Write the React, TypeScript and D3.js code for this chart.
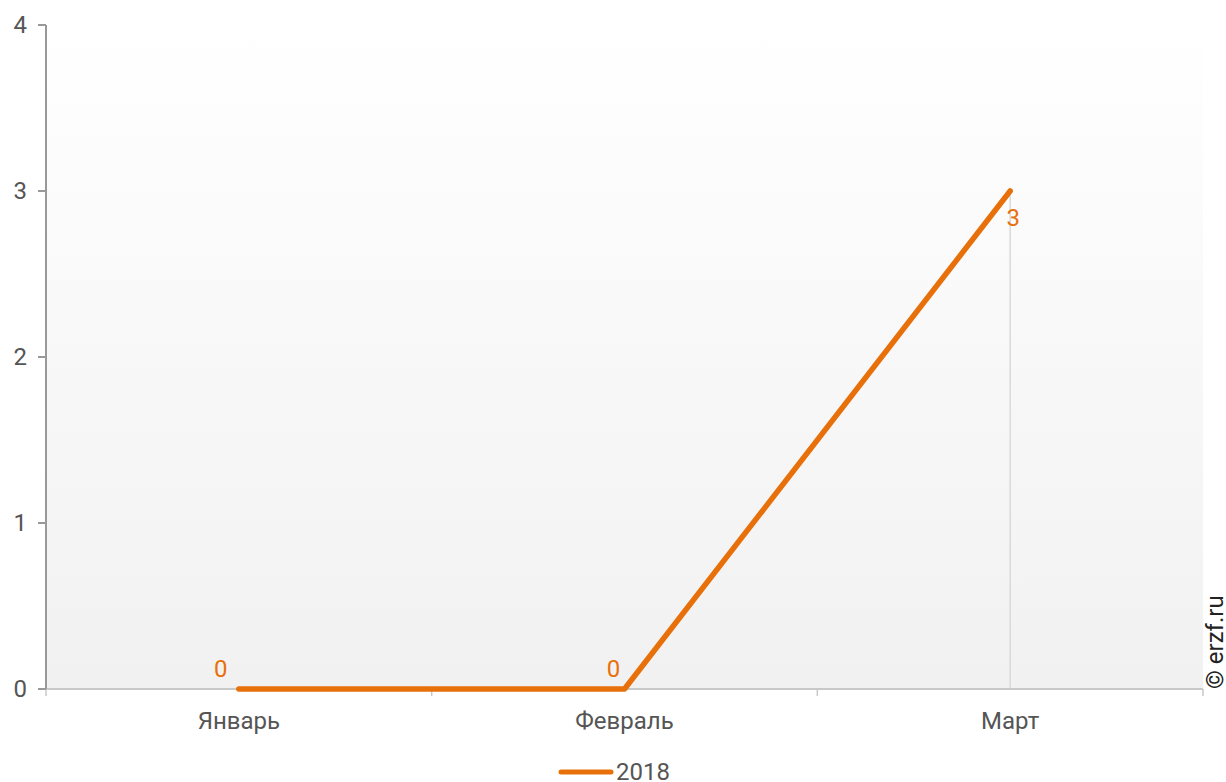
import React from "react";
import * as d3 from "d3";

const categories = ["Январь", "Февраль", "Март"];
const values2018 = [0, 0, 3];
const yTicks = [0, 1, 2, 3, 4];
const seriesName = "2018";

const W = 1226;
const H = 782;
const M = { left: 46, right: 23, top: 25, bottom: 93 };
const ORANGE = "#e8700a";
const FONT = "Roboto, 'Noto Sans', sans-serif";
const FS = 24;
const labelDx = [-18, -11, 3];
const labelDy = [-12, -12, 35];

export default function App() {
  const x = d3
    .scaleBand<string>()
    .domain(categories)
    .range([M.left, W - M.right])
    .padding(0);
  const y = d3.scaleLinear().domain([0, 4]).range([H - M.bottom, M.top]);
  const cx = (c: string) => (x(c) ?? 0) + x.bandwidth() / 2;
  const line = d3
    .line<number>()
    .x((_, i) => cx(categories[i]))
    .y((d) => y(d));
  const bounds = [...categories.map((c) => x(c) ?? 0), W - M.right];
  const lastIdx = values2018.length - 1;

  return (
    <svg
      width={W}
      height={H}
      style={{ position: "absolute", left: 0, top: 0, fontFamily: FONT }}
    >
      <defs>
        <linearGradient id="bg" x1="0" y1="0" x2="0" y2="1">
          <stop offset="0" stopColor="#ffffff" />
          <stop offset="1" stopColor="#f1f1f1" />
        </linearGradient>
      </defs>
      <rect x={0} y={0} width={W} height={H} fill="#fff" />
      <rect
        x={M.left}
        y={M.top}
        width={W - M.left - M.right}
        height={H - M.top - M.bottom}
        fill="url(#bg)"
      />
      {/* drop line at last point */}
      <line
        x1={cx(categories[lastIdx])}
        x2={cx(categories[lastIdx])}
        y1={y(values2018[lastIdx])}
        y2={y(0)}
        stroke="#d9d9d9"
        strokeWidth={1.5}
      />
      {/* x axis */}
      <line x1={M.left} x2={W - M.right} y1={y(0)} y2={y(0)} stroke="#c8c8c8" strokeWidth={2} />
      {bounds.map((b, i) => (
        <line key={i} x1={b} x2={b} y1={y(0)} y2={y(0) + 7} stroke="#c8c8c8" strokeWidth={1.5} />
      ))}
      {categories.map((c) => (
        <text
          key={c}
          x={cx(c)}
          y={y(0) + 40}
          textAnchor="middle"
          fontSize={FS}
          fill="#555"
        >
          {c}
        </text>
      ))}
      {/* y axis */}
      <line x1={M.left} x2={M.left} y1={M.top} y2={y(0)} stroke="#999" strokeWidth={2} />
      {yTicks.map((t) => (
        <g key={t}>
          <line x1={M.left - 8} x2={M.left} y1={y(t)} y2={y(t)} stroke="#999" strokeWidth={2} />
          <text
            x={M.left - 19}
            y={y(t)}
            dy="0.35em"
            textAnchor="end"
            fontSize={FS}
            fill="#555"
          >
            {t}
          </text>
        </g>
      ))}
      {/* series */}
      <path
        d={line(values2018) ?? ""}
        fill="none"
        stroke={ORANGE}
        strokeWidth={5.5}
        strokeLinecap="round"
        strokeLinejoin="round"
      />
      {values2018.map((v, i) => (
        <text
          key={i}
          x={cx(categories[i]) + labelDx[i]}
          y={y(v) + labelDy[i]}
          textAnchor="middle"
          fontSize={FS}
          fill={ORANGE}
        >
          {v}
        </text>
      ))}
      {/* legend */}
      <line x1={561} x2={611} y1={772} y2={772} stroke={ORANGE} strokeWidth={5} strokeLinecap="round" />
      <text x={616} y={780} fontSize={FS} fill="#555">
        {seriesName}
      </text>
      {/* watermark */}
      <text
        transform={`translate(1226, ${y(0)}) rotate(-90)`}
        fontSize={FS}
        fill="#222"
        dy="-3"
      >
        © erzf.ru
      </text>
    </svg>
  );
}
